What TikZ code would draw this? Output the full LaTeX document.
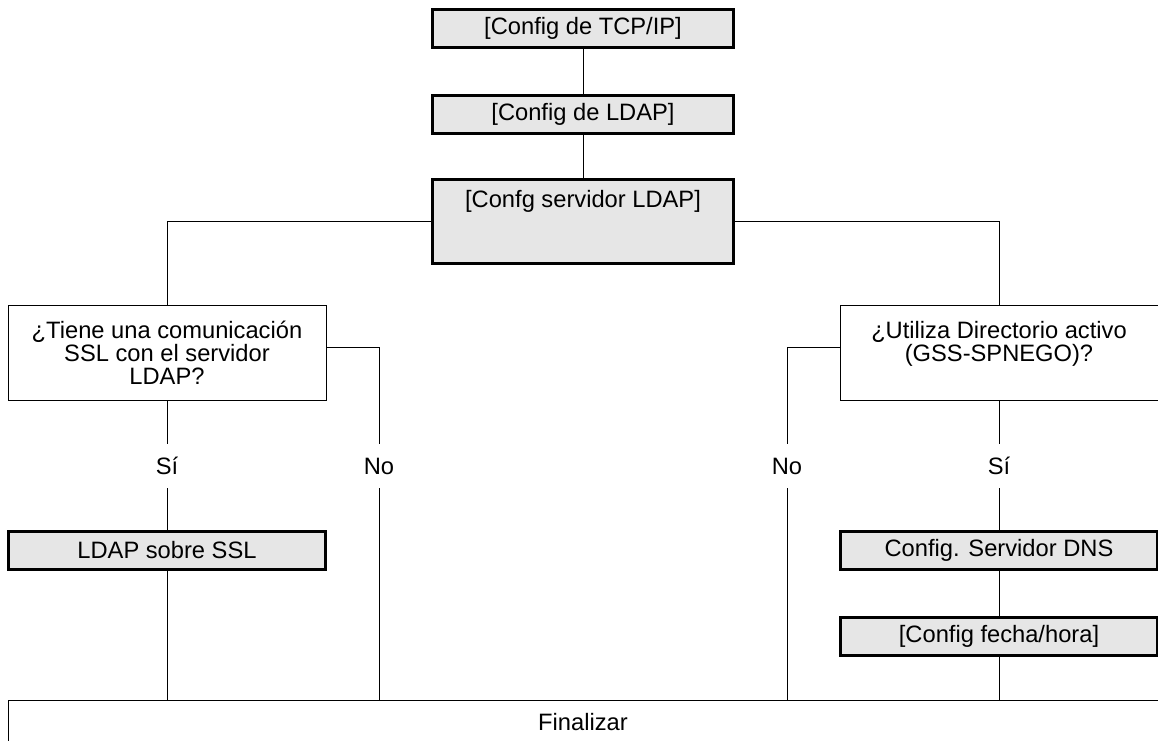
\documentclass[tikz,border=0pt]{standalone}
\usepackage{fontspec}
\setmainfont{Liberation Sans}
\usepackage{xcolor}
\usepackage{tikz}
\usetikzlibrary{positioning,calc}
\definecolor{boxgray}{RGB}{230,230,230}
\newcommand{\chartfont}{\fontsize{11.85}{11.5}\selectfont}
\tikzstyle{setbox} = [rectangle, draw, line width=1.5pt, fill=boxgray, minimum width=150.5pt, minimum height=19pt, inner sep=0pt, font=\chartfont]
\tikzstyle{askbox} = [rectangle, draw, line width=0.5pt, fill=white, minimum width=159pt, minimum height=47.5pt, inner sep=0pt, align=center, font=\chartfont]
\tikzstyle{answer} = [minimum height=22pt, inner sep=0pt, font=\chartfont]
\tikzstyle{link} = [line width=0.5pt]

\begin{document}
\begin{tikzpicture}[x=0.5pt, y=-0.5pt]
    \useasboundingbox (0,0) rectangle (1158,740);
    % main chain
    \node[setbox] (tcp) at (583,28.5) {[Config de TCP/IP]};
    \node[setbox] (ldap) at (583,114.5) {[Config de LDAP]};
    \node[setbox, minimum height=42pt, text height=13.75pt, text depth=28.25pt] (srv) at (583,221.5) {[Confg servidor LDAP]};
    % questions
    \node[askbox] (qssl) at (167,352.5) {¿Tiene una comunicación\\SSL con el servidor\\LDAP?};
    \node[askbox] (qad) at (999,352.5) {¿Utiliza Directorio activo\\(GSS-SPNEGO)?\\\mbox{}};
    \node[answer] (siL) at (167,466) {Sí};
    \node[answer] (noL) at (379,466) {No};
    \node[answer] (noR) at (787,466) {No};
    \node[answer] (siR) at (999,466) {Sí};
    % settings
    \node[setbox, minimum width=158.5pt] (ssl) at (167,550.5) {LDAP sobre SSL};
    \node[setbox, minimum width=158.5pt] (dns) at (999,550.5) {Config. Servidor DNS};
    \node[setbox, minimum width=158.5pt] (fecha) at (999,636.5) {[Config fecha/hora]};
    \node[askbox, minimum width=575pt, minimum height=22pt] (fin) at (583,722) {Finalizar};
    % connectors
    \draw[link] (tcp) -- (ldap);
    \draw[link] (ldap) -- (srv);
    \draw[link] (srv.west) -| (qssl.north);
    \draw[link] (srv.east) -| (qad.north);
    \draw[link] (qssl.south) -- (siL.north);
    \draw[link] (siL.south) -- (ssl.north);
    \draw[link] (ssl.south) -- (ssl.south |- fin.north);
    \draw[link] ($(qssl.north east)!0.45!(qssl.south east)$) -| (noL.north);
    \draw[link] (noL.south) -- (noL.south |- fin.north);
    \draw[link] ($(qad.north west)!0.45!(qad.south west)$) -| (noR.north);
    \draw[link] (noR.south) -- (noR.south |- fin.north);
    \draw[link] (qad.south) -- (siR.north);
    \draw[link] (siR.south) -- (dns.north);
    \draw[link] (dns) -- (fecha);
    \draw[link] (fecha.south) -- (fecha.south |- fin.north);
\end{tikzpicture}
\end{document}
